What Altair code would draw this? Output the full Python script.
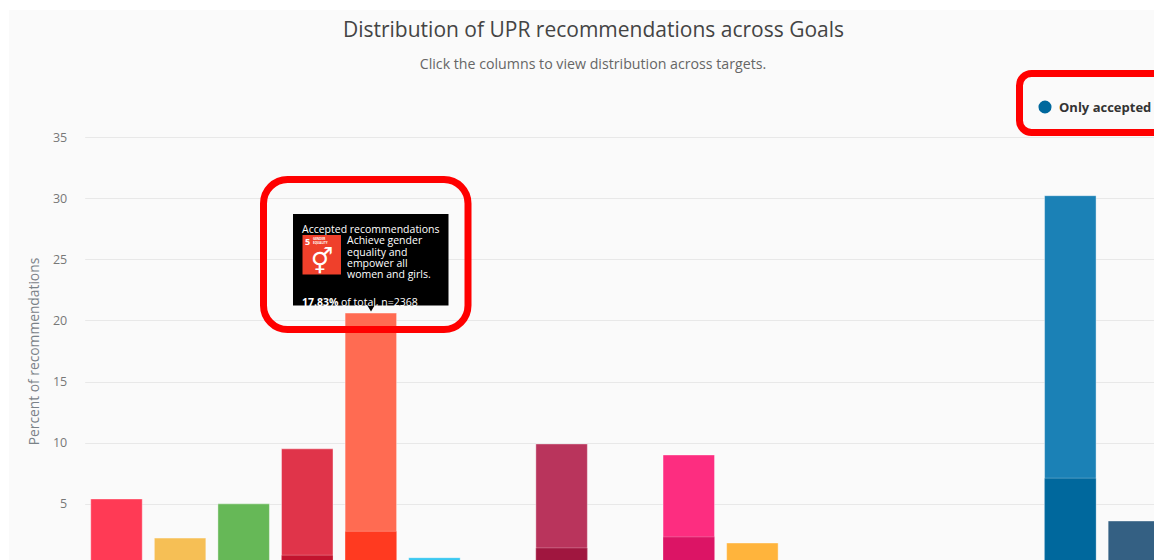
import altair as alt
import pandas as pd

goals = [str(i) for i in range(1, 18)]
visible_goals = ["1", "2", "3", "4", "5", "6", "8", "10", "11", "16", "17"]
all_values = [5.4, 2.2, 5.0, 9.5, 20.6, 0.6, 9.9, 9.0, 1.8, 30.2, 3.6]
accepted_goals = ["4", "5", "8", "10", "16"]
accepted_values = [0.8, 2.75, 1.4, 2.3, 7.1]
light_colors = ["#ff3a55", "#f6bf55", "#66b857", "#e0344a", "#ff6b52", "#3ac8f0",
                "#b9345c", "#fd2d80", "#ffb43c", "#1b81b6", "#346083"]
dark_colors = ["#c3132e", "#ff3a20", "#a0163f", "#dc1465", "#00689d"]

PL, PT, W, H = 84.7, 137.0, 1081, 428
FONT = "Open Sans"
X = lambda p: p - PL
Y = lambda p: p - PT
one = pd.DataFrame({"a": [0]})

xs = alt.X("goal:N", scale=alt.Scale(domain=goals, range=[0, W], paddingInner=0.19, paddingOuter=0.095), axis=None)
ys = alt.Y("v:Q", scale=alt.Scale(domain=[0, 35], range=[H, 0]),
           axis=alt.Axis(title="Percent of recommendations", values=[0, 5, 10, 15, 20, 25, 30, 35],
                         grid=True, gridColor="#e8e8e8", domain=False, ticks=False,
                         labelColor="#777777", labelFontSize=12.5, labelFont=FONT, labelPadding=18,
                         titleColor="#7a8288", titleFontSize=13.8, titleFont=FONT, titleFontWeight="normal",
                         titleY=214, titlePadding=11))

bars_all = alt.Chart(pd.DataFrame({"goal": visible_goals, "v": all_values})).mark_bar(
    stroke="white", strokeOpacity=0.4, strokeWidth=1, clip=False).encode(
    x=xs, y=ys,
    fill=alt.Fill("goal:N", legend=None, scale=alt.Scale(domain=visible_goals, range=light_colors)))

bars_acc = alt.Chart(pd.DataFrame({"goal": accepted_goals, "v": accepted_values})).mark_bar(
    stroke="white", strokeOpacity=0.25, strokeWidth=1).encode(
    x=xs, y=alt.Y("v:Q"),
    fill=alt.Fill("goal2:N", legend=None, scale=alt.Scale(domain=accepted_goals, range=dark_colors))
).transform_calculate(goal2="datum.goal")


def box(x0, x1, y0, y1, **kw):
    return alt.Chart(one).mark_rect(**kw).encode(
        x=alt.value(X(x0)), x2=alt.value(X(x1)), y=alt.value(Y(y0)), y2=alt.value(Y(y1)))


def label(txt, x, y, size=11, color="white", weight="normal", align="left", font=FONT):
    return alt.Chart(one).mark_text(text=txt, fontSize=size, color=color, fontWeight=weight,
                                    align=align, baseline="alphabetic", font=font).encode(
        x=alt.value(X(x)), y=alt.value(Y(y)))


margin_strips = [box(0, 1300, 0, 10, fill="white", opacity=1), box(0, 9, 0, 700, fill="white", opacity=1)]

heading = [
    label("Distribution of UPR recommendations across Goals", 593.5, 37, 21, color="#444444", align="center"),
    label("Click the columns to view distribution across targets.", 593, 69, 14.2, color="#666666", align="center"),
]

tip = [
    box(293, 448.5, 214, 305.5, fill="black"),
    alt.Chart(one).mark_point(shape="triangle-down", filled=True, fill="black", opacity=1, size=70).encode(
        x=alt.value(X(371)), y=alt.value(Y(308))),
    label("Accepted recommendations", 302, 233, 10.5),
    box(302.5, 341, 235, 274.5, fill="#ef402b"),
    label("5", 305, 245, 9, weight="bold"),
    label("GENDER", 313, 239.5, 3, weight="bold"),
    label("EQUALITY", 313, 243.5, 3, weight="bold"),
    label("\u26a5", 322, 270, 25, align="center", font="DejaVu Sans"),
    label("Achieve gender", 347, 244, 10.5),
    label("equality and", 347, 255.5, 10.5),
    label("empower all", 347, 267, 10.5),
    label("women and girls.", 347, 278, 10.5),
    label("17.83%", 302, 306, 10.5, weight="bold"),
    label("of total,  n=2368", 341, 306, 10.5),
]

legend = [
    alt.Chart(one).mark_point(shape="circle", filled=True, fill="#00689d", opacity=1, size=170).encode(
        x=alt.value(X(1045)), y=alt.value(Y(107))),
    label("Only accepted", 1059, 112, 13, color="#333333", weight="bold"),
]

red = [
    box(263.5, 468, 179.5, 329.5, filled=False, stroke="#ff0000", strokeWidth=7, cornerRadius=24),
    box(1019.5, 1185, 73.5, 132.5, filled=False, stroke="#ff0000", strokeWidth=7, cornerRadius=12),
]

chart = alt.layer(*margin_strips, *heading, bars_all, bars_acc, *tip, *legend, *red).resolve_scale(fill="independent").properties(
    width=1146 - (PL - 8), height=552 - (PT - 8),
    autosize=alt.AutoSizeParams(type="none"),
    padding={"left": PL - 8, "top": PT - 8, "right": 0, "bottom": 0},
    background="#fafafa",
).configure_view(stroke=None)

chart.save("out.html", embed_options={"renderer": "svg", "actions": False})
